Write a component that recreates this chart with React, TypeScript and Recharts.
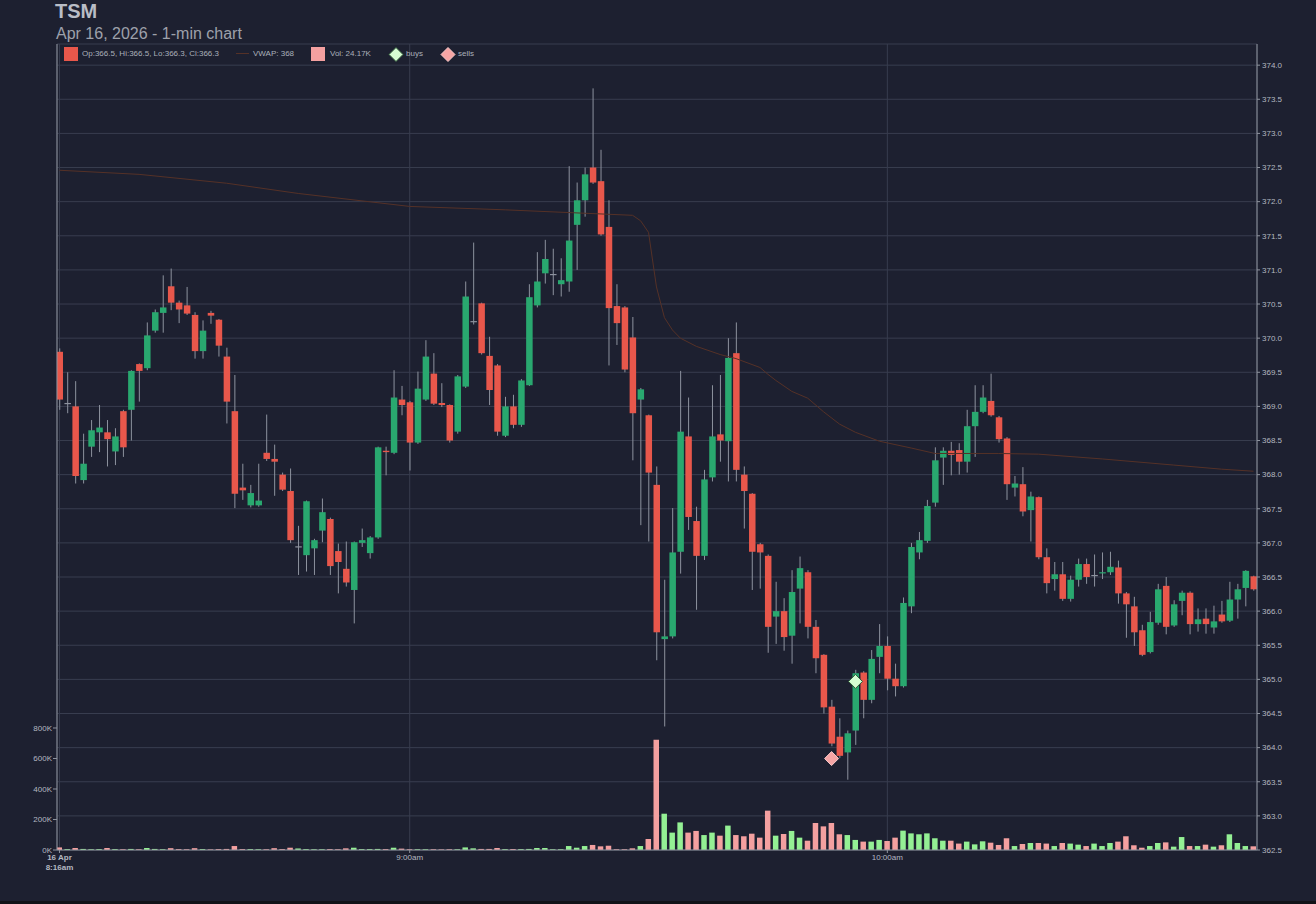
import React from "react";
import {
  ComposedChart,
  Bar,
  Line,
  XAxis,
  YAxis,
  CartesianGrid,
  Cell,
  ReferenceDot,
} from "recharts";

// ---------- data (1-min candles from 8:16am) ----------
const opens = [
  369.8, 369.05, 369.0, 367.92, 368.41, 368.62, 368.62, 368.34, 368.93, 368.95,
  369.62, 369.56, 370.11, 370.37, 370.76, 370.52, 370.48, 370.34, 369.81, 370.37,
  370.27, 369.73, 368.93, 367.81, 367.55, 367.55, 368.32, 368.23, 368.0, 367.76,
  366.95, 366.82, 366.92, 367.18, 367.35, 366.88, 366.62, 366.31, 367.0, 366.85,
  367.08, 368.35, 368.32, 369.1, 369.06, 368.47, 369.1, 369.48, 369.05, 369.02,
  368.63, 369.29, 370.25, 370.51, 369.74, 369.6, 368.57, 369.0, 368.73, 369.31,
  370.48, 370.95, 370.94, 370.79, 370.83, 371.66, 372.02, 372.5, 372.3, 371.63,
  370.47, 370.45, 370.01, 369.1, 368.87, 367.85, 365.59, 365.63, 366.87, 368.56,
  367.32, 366.81, 367.96, 368.59, 368.49, 369.78, 368.0, 367.72, 366.98, 366.81,
  365.92, 366.0, 365.64, 366.33, 366.57, 365.77, 365.36, 364.6, 364.16, 363.93,
  364.25, 365.1, 364.7, 365.33, 365.49, 365.01, 364.9, 366.07, 366.86, 367.03,
  367.59, 368.25, 368.35, 368.36, 368.19, 368.71, 368.92, 369.08, 368.84, 368.53,
  367.81, 367.86, 367.48, 367.67, 366.79, 366.47, 366.54, 366.18, 366.46, 366.69,
  366.53, 366.56, 366.57, 366.64, 366.26, 366.07, 365.72, 365.4, 365.83, 366.37,
  365.79, 366.15, 366.27, 365.81, 365.89, 365.76, 365.95, 365.86, 366.17, 366.34,
  366.51,
];
const highs = [
  369.85, 369.5, 369.37, 368.6, 368.8, 369.02, 368.8, 368.68, 368.95, 369.53,
  369.63, 370.23, 370.42, 370.92, 371.02, 370.55, 370.75, 370.38, 370.26, 370.4,
  370.28, 369.86, 369.46, 368.16, 367.85, 368.16, 368.88, 368.44, 368.03, 368.09,
  367.25, 367.62, 367.06, 367.65, 367.37, 366.99, 367.02, 367.02, 367.21, 367.1,
  368.41, 368.41, 369.53, 369.3, 369.08, 369.51, 369.97, 369.78, 369.34, 369.03,
  369.46, 370.83, 371.4, 370.52, 370.02, 369.62, 369.14, 369.17, 369.4, 370.79,
  371.26, 371.44, 371.31, 371.17, 372.52, 372.28, 372.5, 373.66, 372.76, 372.02,
  370.79, 370.47, 370.31, 369.27, 368.88, 368.12, 366.46, 367.51, 369.52, 369.13,
  367.53, 368.07, 369.31, 369.46, 370.0, 370.23, 368.12, 367.73, 367.0, 366.83,
  366.43, 366.19, 366.6, 366.8, 366.6, 365.87, 365.37, 364.7, 364.43, 364.25,
  365.14, 365.12, 365.43, 365.81, 365.63, 365.23, 366.2, 367.0, 367.16, 367.63,
  368.4, 368.4, 368.48, 368.46, 368.95, 369.31, 369.31, 369.48, 368.86, 368.55,
  367.98, 368.11, 367.75, 367.68, 366.92, 366.72, 366.72, 366.52, 366.77, 366.77,
  366.83, 366.86, 366.87, 366.74, 366.28, 366.21, 365.8, 365.99, 366.4, 366.5,
  366.16, 366.3, 366.29, 366.04, 366.04, 366.08, 366.15, 366.43, 366.4, 366.6,
  366.52,
];
const lows = [
  368.95, 368.9, 367.87, 367.87, 368.26, 368.33, 368.12, 368.14, 368.26, 368.5,
  369.07, 369.53, 370.08, 370.08, 370.41, 370.22, 370.34, 369.7, 369.7, 370.21,
  369.73, 368.75, 367.51, 367.63, 367.52, 367.53, 368.2, 367.69, 367.76, 367.0,
  366.53, 366.58, 366.53, 367.01, 366.53, 366.26, 366.36, 365.82, 366.94, 366.77,
  367.06, 367.99, 368.3, 368.87, 368.06, 368.45, 369.08, 369.02, 368.99, 368.47,
  368.6, 369.27, 370.2, 369.76, 369.02, 368.57, 368.55, 368.68, 368.7, 369.3,
  370.45, 370.8, 370.63, 370.61, 370.68, 371.0, 371.78, 372.26, 371.5, 369.6,
  369.9, 369.5, 368.21, 367.26, 367.02, 365.28, 364.31, 365.6, 366.55, 367.19,
  366.02, 366.75, 367.9, 368.19, 367.9, 367.9, 367.21, 366.31, 366.33, 365.39,
  365.52, 365.42, 365.23, 365.82, 365.6, 365.09, 364.5, 364.02, 363.85, 363.53,
  364.04, 364.43, 364.65, 365.09, 364.84, 364.75, 364.88, 365.97, 366.76, 367.0,
  367.53, 367.85, 367.99, 368.0, 368.03, 368.26, 368.9, 368.85, 368.47, 367.63,
  367.68, 367.39, 367.02, 366.76, 366.26, 366.3, 366.15, 366.14, 366.36, 366.4,
  366.36, 366.47, 366.53, 366.11, 365.61, 365.49, 365.34, 365.38, 365.8, 365.66,
  365.77, 365.94, 365.66, 365.7, 365.67, 365.67, 365.83, 365.84, 365.89, 366.07,
  366.3,
];
const closes = [
  369.1, 369.05, 367.98, 368.16, 368.65, 368.69, 368.52, 368.56, 368.4, 369.52,
  369.52, 370.04, 370.38, 370.45, 370.52, 370.42, 370.36, 369.81, 370.11, 370.33,
  369.89, 369.07, 367.72, 367.77, 367.73, 367.62, 368.23, 368.19, 367.78, 367.04,
  366.95, 367.61, 367.04, 367.45, 366.66, 366.72, 366.42, 367.01, 367.04, 367.08,
  368.4, 368.33, 369.13, 369.02, 368.47, 369.26, 369.73, 369.04, 369.02, 368.5,
  369.44, 370.61, 370.25, 369.78, 369.24, 368.63, 369.0, 368.73, 369.38, 370.6,
  370.83, 371.16, 370.94, 370.85, 371.43, 372.02, 372.4, 372.28, 371.52, 370.44,
  370.22, 369.54, 368.9, 369.25, 368.03, 365.69, 365.63, 366.86, 368.63, 367.38,
  366.81, 367.93, 368.56, 368.5, 369.71, 368.07, 367.76, 366.87, 366.86, 365.77,
  366.0, 365.62, 366.28, 366.63, 365.77, 365.31, 364.59, 364.06, 363.88, 364.21,
  365.09, 364.7, 365.3, 365.49, 365.01, 364.9, 366.12, 366.94, 367.04, 367.54,
  368.21, 368.35, 368.29, 368.19, 368.71, 368.92, 369.13, 368.87, 368.52, 367.86,
  367.87, 367.46, 367.68, 366.79, 366.41, 366.54, 366.18, 366.46, 366.69, 366.5,
  366.53, 366.57, 366.65, 366.26, 366.1, 365.69, 365.36, 365.84, 366.32, 365.77,
  366.1, 366.27, 365.81, 365.88, 365.81, 365.85, 365.85, 366.17, 366.32, 366.59,
  366.32,
];
// volume in thousands of shares
const volumesK = [
  17, 6, 13, 7, 5, 6, 13, 6, 5, 7,
  5, 13, 7, 5, 12, 6, 5, 12, 6, 4,
  6, 7, 26, 6, 6, 5, 5, 12, 6, 15,
  10, 6, 5, 5, 6, 5, 11, 15, 6, 6,
  7, 6, 15, 9, 5, 5, 5, 5, 4, 5,
  5, 17, 11, 7, 7, 13, 6, 6, 6, 7,
  13, 13, 5, 5, 26, 15, 26, 33, 24, 28,
  5, 5, 11, 26, 72, 723, 238, 114, 181, 114,
  125, 98, 114, 94, 160, 98, 90, 107, 81, 258,
  94, 105, 125, 81, 61, 177, 155, 177, 103, 98,
  66, 55, 55, 66, 59, 81, 127, 109, 103, 109,
  77, 61, 61, 42, 55, 37, 57, 48, 33, 77,
  26, 39, 46, 46, 42, 26, 46, 42, 35, 26,
  42, 26, 46, 55, 90, 31, 15, 26, 46, 50,
  22, 85, 26, 26, 35, 22, 31, 103, 46, 26,
  24.17,
];
// VWAP read at selected candles: [candle index, price]
const vwapPoints: [number, number][] = [
  [0, 372.46], [10, 372.4], [21, 372.27], [30, 372.12], [44, 371.93],
  [56, 371.88], [64, 371.84], [72, 371.8], [73, 371.72], [74, 371.55],
  [75, 370.75], [76, 370.3], [77, 370.12], [78, 370.0], [80, 369.88],
  [83, 369.76], [85, 369.7], [88, 369.57], [89, 369.47], [90, 369.38],
  [92, 369.22], [94, 369.12], [96, 368.92], [98, 368.74], [100, 368.62],
  [103, 368.49], [107, 368.39], [110, 368.31], [118, 368.31], [123, 368.3],
  [131, 368.23], [140, 368.14], [146, 368.08], [150, 368.05],
];
const buys = [{ i: 100, price: 364.97 }];
const sells = [{ i: 97, price: 363.84 }];

const priceTicks = [
  362.5, 363, 363.5, 364, 364.5, 365, 365.5, 366, 366.5, 367, 367.5, 368,
  368.5, 369, 369.5, 370, 370.5, 371, 371.5, 372, 372.5, 373, 373.5, 374,
];
const volumeTicks = [0, 200000, 400000, 600000, 800000];
const xTickIndex = [0, 44, 104];
const xTickLabels = [["16 Apr", "8:16am"], ["9:00am"], ["10:00am"]];

// ---------- styling ----------
const BG = "#1d2030";
const GREEN = "#29a86f";
const RED = "#e8574b";
const WICK = "#8d929e";
const VOL_UP = "#94f094";
const VOL_DN = "#f4a0a0";
const GRID = "#383d4f";
const AXIS = "#8e939e";
const TXT = "#b4b8c1";
const VWAP_C = "#553127";
const FONT = "'Liberation Sans', Arial, Helvetica, sans-serif";

const vwapMap = new Map(vwapPoints);
const rows = opens.map((o, i) => ({
  i,
  o,
  h: highs[i],
  l: lows[i],
  c: closes[i],
  range: [lows[i], highs[i]],
  vol: volumesK[i] * 1000,
  vwap: vwapMap.has(i) ? vwapMap.get(i) : null,
}));
const last = rows.length - 1;

const Candle = (props: any) => {
  const { x, y, width, height, payload } = props;
  if (!payload || x == null || y == null) return null;
  const { o, h, l, c } = payload;
  const top = Math.min(y, y + height);
  const bot = Math.max(y, y + height);
  const span = h - l;
  const py = (v: number) => (span > 0 ? top + ((h - v) / span) * (bot - top) : top);
  const cx = x + width / 2;
  const color = o === c ? WICK : c > o ? GREEN : RED;
  const bTop = py(Math.max(o, c));
  const bBot = py(Math.min(o, c));
  return (
    <g>
      <line x1={cx} x2={cx} y1={top} y2={bot} stroke={WICK} strokeWidth={1} />
      <rect x={x} y={bTop} width={width} height={Math.max(1.2, bBot - bTop)} fill={color} />
    </g>
  );
};

const Diamond = ({ cx, cy, fill, stroke, r = 7 }: any) => (
  <path
    d={`M${cx},${cy - r} L${cx + r},${cy} L${cx},${cy + r} L${cx - r},${cy} Z`}
    fill={fill}
    stroke={stroke}
    strokeWidth={1}
  />
);

const XTick = (props: any) => {
  const { x, y, payload } = props;
  const k = xTickIndex.indexOf(payload.value);
  const lines = k >= 0 ? xTickLabels[k] : [];
  const bold = lines.length > 1;
  return (
    <text
      x={x}
      y={y}
      textAnchor="middle"
      fill={TXT}
      fontSize={8}
      fontFamily={FONT}
      fontWeight={bold ? "bold" : "normal"}
    >
      {lines.map((s, j) => (
        <tspan key={j} x={x} dy={j === 0 ? "0.75em" : "1.25em"}>
          {s}
        </tspan>
      ))}
    </text>
  );
};

const DOMAIN_X: [number, number] = [-0.31, 150.44];

export default function App() {
  const legendText: React.CSSProperties = {
    position: "absolute",
    top: 49,
    fontSize: 8,
    lineHeight: "10px",
    color: "#aab0ba",
    fontFamily: FONT,
    whiteSpace: "nowrap",
  };
  return (
    <div style={{ position: "relative", width: 1316, height: 901, background: BG, fontFamily: FONT }}>
      <style>{"body{margin:0;background:#111318;}"}</style>
      <div
        style={{
          position: "absolute",
          left: 55,
          top: 1,
          fontSize: 20,
          lineHeight: "20px",
          fontWeight: "bold",
          color: "#b9bdc6",
        }}
      >
        TSM
      </div>
      <div
        style={{
          position: "absolute",
          left: 56,
          top: 25.5,
          fontSize: 16,
          lineHeight: "16px",
          color: "#9da1ab",
          whiteSpace: "nowrap",
        }}
      >
        Apr 16, 2026 - 1-min chart
      </div>

      <ComposedChart
        width={1316}
        height={901}
        data={rows}
        margin={{ top: 44, right: 0, bottom: 0, left: 0 }}
        style={{ position: "absolute", left: 0, top: 0 }}
      >
        <CartesianGrid xAxisId={0} yAxisId={0} stroke={GRID} strokeWidth={1} />
        <XAxis
          xAxisId={0}
          dataKey="i"
          type="number"
          domain={DOMAIN_X}
          allowDataOverflow
          ticks={xTickIndex}
          tick={<XTick />}
          tickLine={{ stroke: AXIS }}
          tickSize={3}
          tickMargin={1}
          axisLine={{ stroke: AXIS }}
          height={51}
          interval={0}
        />
        <XAxis xAxisId="xv" dataKey="i" type="number" domain={DOMAIN_X} allowDataOverflow hide />
        <XAxis
          xAxisId="top"
          dataKey="i"
          type="number"
          orientation="top"
          domain={DOMAIN_X}
          allowDataOverflow
          tick={false}
          tickLine={false}
          axisLine={{ stroke: AXIS }}
          height={0}
        />
        <YAxis
          yAxisId={0}
          orientation="right"
          type="number"
          domain={[362.5, 374.31]}
          allowDataOverflow
          ticks={priceTicks}
          interval={0}
          tickFormatter={(v: number) => v.toFixed(1)}
          tick={{ fill: TXT, fontSize: 8, fontFamily: FONT }}
          tickLine={{ stroke: AXIS }}
          tickSize={3}
          tickMargin={2}
          axisLine={{ stroke: AXIS }}
          width={59}
        />
        <YAxis
          yAxisId="vol"
          orientation="left"
          type="number"
          domain={[0, 5285000]}
          allowDataOverflow
          ticks={volumeTicks}
          interval={0}
          tickFormatter={(v: number) => `${Math.round(v / 1000)}K`}
          tick={{ fill: TXT, fontSize: 8, fontFamily: FONT }}
          tickLine={{ stroke: AXIS }}
          tickSize={4}
          tickMargin={1}
          axisLine={{ stroke: AXIS }}
          width={57}
        />

        <Bar xAxisId="xv" yAxisId="vol" dataKey="vol" barSize={5.5} isAnimationActive={false}>
          {rows.map((r, k) => (
            <Cell key={k} fill={r.c >= r.o ? VOL_UP : VOL_DN} />
          ))}
        </Bar>
        <Bar
          xAxisId={0}
          yAxisId={0}
          dataKey="range"
          barSize={6.5}
          shape={<Candle />}
          isAnimationActive={false}
        />
        <Line
          xAxisId={0}
          yAxisId={0}
          dataKey="vwap"
          type="linear"
          stroke={VWAP_C}
          strokeWidth={1}
          dot={false}
          activeDot={false}
          connectNulls
          isAnimationActive={false}
        />
        {sells.map((s, k) => (
          <ReferenceDot
            key={`s${k}`}
            xAxisId={0}
            yAxisId={0}
            x={s.i}
            y={s.price}
            shape={(p: any) => <Diamond cx={p.cx} cy={p.cy} fill="#f6a5a5" stroke="#fbc9c9" />}
          />
        ))}
        {buys.map((b, k) => (
          <ReferenceDot
            key={`b${k}`}
            xAxisId={0}
            yAxisId={0}
            x={b.i}
            y={b.price}
            shape={(p: any) => <Diamond cx={p.cx} cy={p.cy} fill="#d6fcd2" stroke="#2e5a36" />}
          />
        ))}
      </ComposedChart>

      {/* legend */}
      <div style={{ position: "absolute", left: 64, top: 47, width: 14, height: 14, background: RED }} />
      <div style={{ ...legendText, left: 82 }}>
        {`Op:${opens[last].toFixed(1)}, Hi:${highs[last].toFixed(1)}, Lo:${lows[last].toFixed(1)}, Cl:${closes[last].toFixed(1)}`}
      </div>
      <div style={{ position: "absolute", left: 236, top: 53, width: 13, height: 1, background: VWAP_C }} />
      <div style={{ ...legendText, left: 253 }}>{`VWAP: ${Math.round(vwapPoints[vwapPoints.length - 1][1])}`}</div>
      <div style={{ position: "absolute", left: 311, top: 47, width: 14, height: 14, background: VOL_DN }} />
      <div style={{ ...legendText, left: 330 }}>{`Vol: ${volumesK[last].toFixed(2)}K`}</div>
      <svg style={{ position: "absolute", left: 388, top: 47 }} width={16} height={16}>
        <Diamond cx={8} cy={7.5} r={7} fill="#d6fcd2" stroke="#2e5a36" />
      </svg>
      <div style={{ ...legendText, left: 406 }}>buys</div>
      <svg style={{ position: "absolute", left: 440, top: 47 }} width={16} height={16}>
        <Diamond cx={8} cy={7.5} r={7} fill="#f6a5a5" stroke="#fbc9c9" />
      </svg>
      <div style={{ ...legendText, left: 458 }}>sells</div>
    </div>
  );
}
